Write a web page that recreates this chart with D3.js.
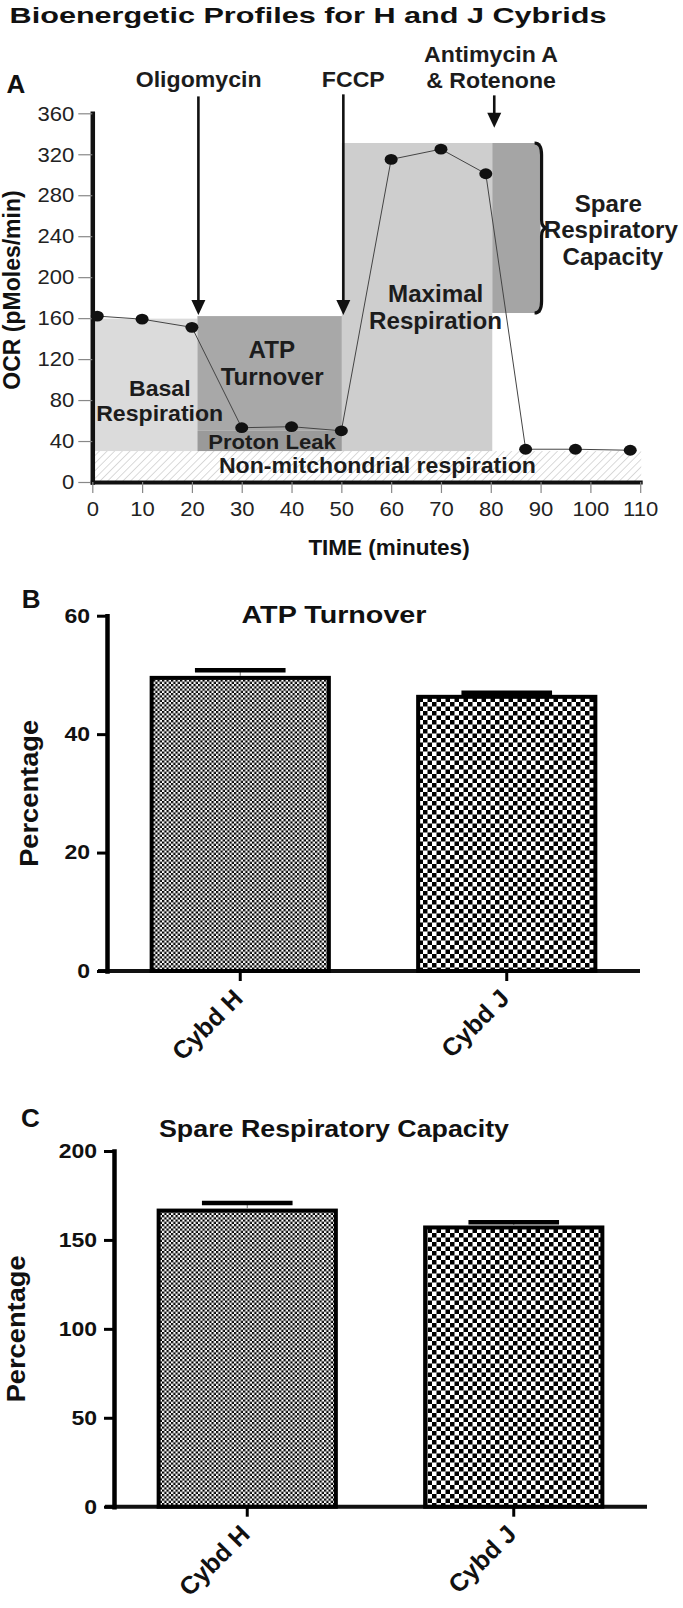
<!DOCTYPE html>
<html>
<head>
<meta charset="utf-8">
<script src="https://cdn.jsdelivr.net/npm/d3@7"></script>
<style>
  body { margin: 0; background: #fff; }
  svg { display: block; font-family: "Liberation Sans", Arial, Helvetica, sans-serif; }
</style>
</head>
<body>
<svg id="fig" width="683" height="1608"></svg>
<script>
'use strict';

// ---- panel A : OCR trace ----
var times = [1, 10, 20, 30, 40, 50, 60, 70, 79, 87, 97, 108];
var ocr = [162, 159, 151, 53, 54, 50, 315, 325, 301, 32, 32, 31];
var timeTicks = [0, 10, 20, 30, 40, 50, 60, 70, 80, 90, 100, 110];
var ocrTicks = [0, 40, 80, 120, 160, 200, 240, 280, 320, 360];

// shaded areas, in minutes / OCR units
var blocks = [
  {name: 'nonmito', t0: 0, t1: 110.2, v0: 0, v1: 30.2},
  {name: 'basal', t0: 0, t1: 21.1, v0: 30.2, v1: 159.5},
  {name: 'maximal', t0: 50.1, t1: 80.3, v0: 30.2, v1: 331},
  {name: 'atp', t0: 21.1, t1: 50.1, v0: 50, v1: 162},
  {name: 'proton', t0: 21.1, t1: 50.1, v0: 30.2, v1: 50},
  {name: 'spare', t0: 80.3, t1: 90, v0: 165, v1: 331}
];
var blockFill = {nonmito: 'url(#hatch)', basal: '#dbdbdb', maximal: '#cecece', atp: '#a8a8a8', proton: '#9a9a9a', spare: '#a5a5a5'};

// injections: time, top of shaft, arrow tip (OCR units)
var injections = [
  {t: 21.3, top: 376.5, tip: 163},
  {t: 50.4, top: 378.5, tip: 163},
  {t: 80.7, top: 377.5, tip: 346}
];
var brace = {t: 90, v0: 165, v1: 331};

// text anchored in data space (centre, baseline)
var notes = [
  {text: 'Oligomycin', t: 21.35, v: 385.4, size: 22},
  {text: 'FCCP', t: 52.4, v: 385.4, size: 22},
  {text: 'Antimycin A', t: 80.06, v: 409.8, size: 22},
  {text: '& Rotenone', t: 80.06, v: 384.4, size: 22},
  {text: 'Basal', t: 13.55, v: 84.2, size: 22},
  {text: 'Respiration', t: 13.53, v: 59.8, size: 22},
  {text: 'ATP', t: 36.05, v: 121.3, size: 23},
  {text: 'Turnover', t: 36.1, v: 94.6, size: 23},
  {text: 'Proton Leak', t: 36.08, v: 32.2, size: 21},
  {text: 'Maximal', t: 68.94, v: 175.9, size: 23},
  {text: 'Respiration', t: 68.9, v: 149.0, size: 23},
  {text: 'Non-mitchondrial respiration', t: 57.25, v: 9.1, size: 22},
  {text: 'Spare', t: 103.6, v: 263.7, size: 23},
  {text: 'Respiratory', t: 104.1, v: 237.8, size: 23},
  {text: 'Capacity', t: 104.5, v: 211.7, size: 23}
];

// ---- panels B and C : bar charts ----
var groups = ['Cybd H', 'Cybd J'];
var atpMean = [49.5, 46.3];
var atpErr = [1.3, 0.7];
var atpTicks = [0, 20, 40, 60];
var spareMean = [166.5, 157];
var spareErr = [4.2, 3.0];
var spareTicks = [0, 50, 100, 150, 200];

var svg = d3.select('#fig');
svg.append('rect').attr('width', 683).attr('height', 1608).attr('fill', '#fff');

var defs = svg.append('defs');
defs.append('pattern').attr('id', 'hatch').attr('patternUnits', 'userSpaceOnUse')
  .attr('width', 5.4).attr('height', 10).attr('patternTransform', 'rotate(45)')
  .append('line').attr('x1', 0).attr('y1', 0).attr('x2', 0).attr('y2', 10)
  .attr('stroke', '#b4b4b4').attr('stroke-width', 1);

function checker(id, c) {
  var p = defs.append('pattern').attr('id', id).attr('patternUnits', 'userSpaceOnUse')
    .attr('width', 2 * c).attr('height', 2 * c);
  p.append('rect').attr('width', 2 * c).attr('height', 2 * c).attr('fill', '#fff');
  p.append('rect').attr('width', c).attr('height', c).attr('fill', '#000');
  p.append('rect').attr('x', c).attr('y', c).attr('width', c).attr('height', c).attr('fill', '#000');
}
checker('fine', 2.25);
checker('coarse', 4.5);
var barFill = ['url(#fine)', 'url(#coarse)'];

// stretch text horizontally by k
function widen(sel, k) {
  sel.each(function() {
    var w = this.getComputedTextLength();
    d3.select(this).attr('textLength', w * k).attr('lengthAdjust', 'spacingAndGlyphs');
  });
}

// title
widen(svg.append('text').attr('x', 9.6).attr('y', 23.3)
  .attr('font-size', 22.5).attr('font-weight', 'bold').attr('fill', '#111')
  .text('Bioenergetic Profiles for H and J Cybrids'), 1.36);

function panelLetter(txt, x, y) {
  svg.append('text').attr('x', x).attr('y', y).attr('font-size', 26).attr('font-weight', 'bold')
    .attr('fill', '#111').text(txt);
}
panelLetter('A', 6.5, 93);
panelLetter('B', 21.7, 608.3);
panelLetter('C', 21, 1127);

// ================= panel A =================
var xA = d3.scaleLinear().domain([0, 110]).range([92.3, 640.2]);
var yA = d3.scaleLinear().domain([0, 360]).range([482, 113.3]);
var gA = svg.append('g');

gA.selectAll('rect.block').data(blocks).enter().append('rect')
  .attr('class', 'block')
  .attr('x', function(d) { return xA(d.t0); })
  .attr('y', function(d) { return yA(d.v1); })
  .attr('width', function(d) { return xA(d.t1) - xA(d.t0); })
  .attr('height', function(d) { return yA(d.v0) - yA(d.v1); })
  .attr('fill', function(d) { return blockFill[d.name]; });

// brace next to spare capacity
var bx = xA(brace.t) - 1, bt = yA(brace.v1), bb = yA(brace.v0), bm = (bt + bb) / 2;
gA.append('path')
  .attr('d', 'M' + (bx - 5) + ',' + bt + ' Q' + (bx + 2) + ',' + bt + ' ' + (bx + 2) + ',' + (bt + 12) +
    ' L' + (bx + 2) + ',' + (bm - 8) + ' Q' + (bx + 2) + ',' + bm + ' ' + (bx + 8) + ',' + bm +
    ' Q' + (bx + 2) + ',' + bm + ' ' + (bx + 2) + ',' + (bm + 8) +
    ' L' + (bx + 2) + ',' + (bb - 12) + ' Q' + (bx + 2) + ',' + bb + ' ' + (bx - 5) + ',' + bb)
  .attr('fill', 'none').attr('stroke', '#111').attr('stroke-width', 3.2);

// axes
var axYA = gA.append('g').attr('transform', 'translate(' + xA(0) + ',0)')
  .call(d3.axisLeft(yA).tickValues(ocrTicks).tickSize(14).tickPadding(4).tickSizeOuter(0));
axYA.select('.domain').attr('stroke', '#111').attr('stroke-width', 4.5).attr('stroke-linecap', 'square');
axYA.selectAll('.tick line').attr('stroke', '#888').attr('stroke-width', 1.2);
axYA.selectAll('.tick text').attr('font-size', 21).attr('fill', '#222')
  .attr('font-family', '"Liberation Sans", Arial, sans-serif');
widen(axYA.selectAll('.tick text'), 1.05);

var axXA = gA.append('g').attr('transform', 'translate(0,' + yA(0) + ')')
  .call(d3.axisBottom(xA).tickValues(timeTicks).tickSize(11).tickPadding(8).tickSizeOuter(0));
axXA.select('.domain').attr('stroke', '#111').attr('stroke-width', 4).attr('stroke-linecap', 'square');
axXA.selectAll('.tick line').attr('stroke', '#888').attr('stroke-width', 1.2);
axXA.selectAll('.tick text').attr('font-size', 21).attr('fill', '#222')
  .attr('font-family', '"Liberation Sans", Arial, sans-serif');
widen(axXA.selectAll('.tick text'), 1.05);

// trace
var pts = times.map(function(t, i) { return [t, ocr[i]]; });
gA.append('path').datum(pts)
  .attr('d', d3.line().x(function(d) { return xA(d[0]); }).y(function(d) { return yA(d[1]); }))
  .attr('fill', 'none').attr('stroke', '#444').attr('stroke-width', 1);
gA.selectAll('ellipse.dot').data(pts).enter().append('ellipse')
  .attr('class', 'dot')
  .attr('cx', function(d) { return xA(d[0]); })
  .attr('cy', function(d) { return yA(d[1]); })
  .attr('rx', 6.5).attr('ry', 5.4).attr('fill', '#111');

// injection arrows
injections.forEach(function(a) {
  var ax = xA(a.t), tipY = yA(a.tip);
  gA.append('line').attr('x1', ax).attr('x2', ax).attr('y1', yA(a.top)).attr('y2', tipY - 12)
    .attr('stroke', '#111').attr('stroke-width', 2.6);
  gA.append('path').attr('d', 'M' + (ax - 7) + ',' + (tipY - 15) + ' L' + (ax + 7) + ',' + (tipY - 15) + ' L' + ax + ',' + tipY + ' Z')
    .attr('fill', '#111');
});

// annotations
gA.selectAll('text.note').data(notes).enter().append('text')
  .attr('class', 'note')
  .attr('x', function(d) { return xA(d.t); })
  .attr('y', function(d) { return yA(d.v); })
  .attr('text-anchor', 'middle').attr('font-weight', 'bold')
  .attr('font-size', function(d) { return d.size; })
  .attr('fill', '#1c1c1c')
  .text(function(d) { return d.text; });
widen(gA.selectAll('text.note'), 1.05);

// axis titles
svg.append('text').attr('transform', 'translate(20,290) rotate(-90)')
  .attr('text-anchor', 'middle').attr('font-size', 23).attr('font-weight', 'bold').attr('fill', '#111')
  .text('OCR (pMoles/min)');
svg.append('text').attr('x', 389).attr('y', 555)
  .attr('text-anchor', 'middle').attr('font-size', 22.5).attr('font-weight', 'bold').attr('fill', '#111')
  .text('TIME (minutes)');

// ================= panels B, C =================
function barPanel(o) {
  var y = d3.scaleLinear().domain([0, o.max]).range([o.y0, o.y1]);
  var x = d3.scaleBand().domain(groups).range([o.x0, o.x1]).paddingInner(0.32).paddingOuter(0.16);
  var bw = x.bandwidth();
  var g = svg.append('g');

  g.append('text').attr('x', o.titleX).attr('y', o.titleY).attr('text-anchor', 'middle')
    .attr('font-size', o.titleSize).attr('font-weight', 'bold').attr('fill', '#111')
    .attr('textLength', o.titleLen).attr('lengthAdjust', 'spacingAndGlyphs')
    .text(o.title);

  // x axis line reaches a little left of y axis
  g.append('line').attr('x1', x.range()[0] - 9).attr('x2', x.range()[1])
    .attr('y1', y(0)).attr('y2', y(0)).attr('stroke', '#111').attr('stroke-width', 4);

  g.selectAll('rect.bar').data(groups).enter().append('rect')
    .attr('class', 'bar')
    .attr('x', function(d) { return x(d) + 2; })
    .attr('y', function(d, i) { return y(o.mean[i]); })
    .attr('width', bw - 4)
    .attr('height', function(d, i) { return y(0) - y(o.mean[i]); })
    .attr('fill', function(d, i) { return barFill[i]; })
    .attr('stroke', '#000').attr('stroke-width', 4);

  groups.forEach(function(d, i) {
    var cx = x(d) + bw / 2, top = y(o.mean[i] + o.err[i]);
    g.append('line').attr('x1', cx).attr('x2', cx).attr('y1', y(o.mean[i]) - 2).attr('y2', top)
      .attr('stroke', '#777').attr('stroke-width', 1);
    g.append('line').attr('x1', cx - bw * 0.25).attr('x2', cx + bw * 0.25).attr('y1', top).attr('y2', top)
      .attr('stroke', '#000').attr('stroke-width', 4.5);
  });

  var ay = g.append('g').attr('transform', 'translate(' + o.x0 + ',0)')
    .call(d3.axisLeft(y).tickValues(o.ticks).tickSize(10).tickPadding(7).tickSizeOuter(0));
  ay.select('.domain').attr('stroke', '#000').attr('stroke-width', 4.5).attr('stroke-linecap', 'square');
  ay.selectAll('.tick line').attr('stroke', '#000').attr('stroke-width', 3);
  ay.selectAll('.tick text').attr('font-size', 20).attr('font-weight', 'bold').attr('fill', '#111')
    .attr('font-family', '"Liberation Sans", Arial, sans-serif');
  widen(ay.selectAll('.tick text'), 1.15);

  var ax = g.append('g').attr('transform', 'translate(0,' + o.y0 + ')')
    .call(d3.axisBottom(x).tickSize(10).tickSizeOuter(0));
  ax.select('.domain').remove();
  ax.selectAll('.tick line').attr('stroke', '#000').attr('stroke-width', 3);
  ax.selectAll('.tick text')
    .attr('x', 0).attr('y', 0).attr('dy', 0)
    .attr('transform', 'translate(4,29) rotate(-45)')
    .attr('text-anchor', 'end').attr('font-size', 25).attr('font-weight', 'bold').attr('fill', '#111')
    .attr('font-family', '"Liberation Sans", Arial, sans-serif');

  svg.append('text').attr('transform', 'translate(' + o.labelX + ',' + ((o.y0 + o.y1) / 2) + ') rotate(-90)')
    .attr('text-anchor', 'middle').attr('font-size', 26).attr('font-weight', 'bold').attr('fill', '#111')
    .attr('textLength', 147).attr('lengthAdjust', 'spacingAndGlyphs')
    .text('Percentage');
}

barPanel({
  title: 'ATP Turnover', titleX: 334, titleY: 623.3, titleSize: 23, titleLen: 185,
  mean: atpMean, err: atpErr, ticks: atpTicks, max: 60,
  y0: 971, y1: 615.7, x0: 107, x1: 640, labelX: 38
});
barPanel({
  title: 'Spare Respiratory Capacity', titleX: 334, titleY: 1136.7, titleSize: 24, titleLen: 350,
  mean: spareMean, err: spareErr, ticks: spareTicks, max: 200,
  y0: 1506.7, y1: 1151, x0: 114, x1: 647, labelX: 25
});
</script>
</body>
</html>
